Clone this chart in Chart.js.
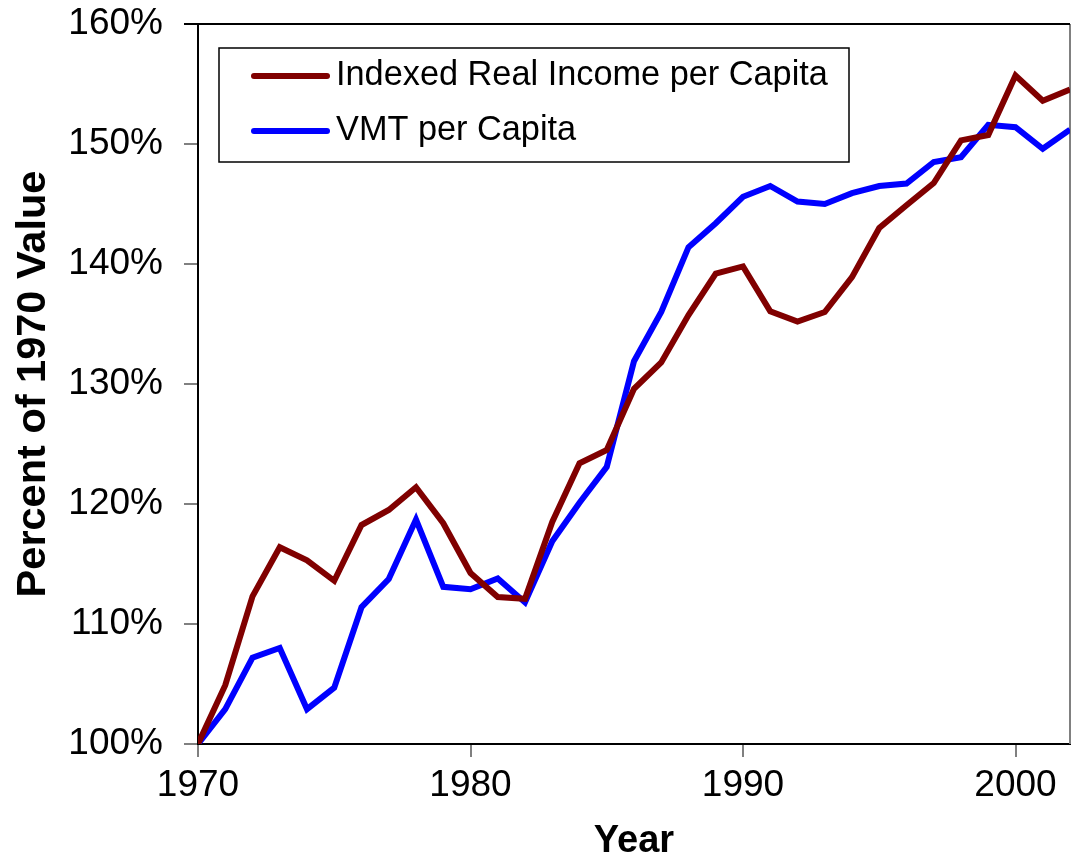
<!DOCTYPE html>
<html><head><meta charset="utf-8">
<script src="https://cdn.jsdelivr.net/npm/chart.js@4/dist/chart.umd.min.js"></script>
<style>html,body{margin:0;padding:0;background:#fff;} #wrap{width:1076px;height:856px;position:relative;}</style>
</head><body><div id="wrap"><canvas id="c" width="1076" height="856"></canvas></div>
<script>
const years = [1970,1971,1972,1973,1974,1975,1976,1977,1978,1979,1980,1981,1982,1983,1984,1985,1986,1987,1988,1989,1990,1991,1992,1993,1994,1995,1996,1997,1998,1999,2000,2001,2002];
const incomeIndex = [100,104.9,112.3,116.4,115.3,113.6,118.25,119.5,121.4,118.4,114.25,112.25,112.1,118.5,123.4,124.5,129.6,131.8,135.75,139.2,139.8,136.05,135.2,136.0,138.9,143.0,144.9,146.75,150.3,150.75,155.7,153.6,154.55];
const vmtIndex = [100,102.9,107.2,108.0,102.9,104.7,111.4,113.75,118.7,113.1,112.9,113.8,111.8,116.9,120.1,123.1,131.9,136.0,141.4,143.4,145.6,146.5,145.2,145.0,145.9,146.5,146.7,148.5,148.9,151.6,151.4,149.6,151.2];
const xTickValues = [1970,1980,1990,2000];
const yTickValues = [100,110,120,130,140,150,160];
const seriesLabels = ['Indexed Real Income per Capita','VMT per Capita'];
const seriesColors = ['#800000','#0000FF'];
const yAxisTitle = 'Percent of 1970 Value';
const xAxisTitle = 'Year';

const FAM = "'Liberation Sans', Arial, Helvetica, sans-serif";

const framePlugin = {
  id: 'frame',
  beforeDatasetsDraw(chart) {
    const {ctx, chartArea: a} = chart;
    ctx.save();
    ctx.lineWidth = 2;
    ctx.strokeStyle = '#808080';
    ctx.beginPath(); ctx.moveTo(a.right, a.top); ctx.lineTo(a.right, a.bottom); ctx.stroke();
    ctx.strokeStyle = '#000';
    ctx.beginPath(); ctx.moveTo(a.left - 14, a.top); ctx.lineTo(a.right, a.top); ctx.stroke();
    ctx.restore();
  }
};

const boxLegend = {
  id: 'boxLegend',
  afterDatasetsDraw(chart) {
    const {ctx} = chart;
    const bx = 219, by = 48, bw = 630, bh = 114;
    ctx.save();
    ctx.fillStyle = '#fff';
    ctx.fillRect(bx, by, bw, bh);
    ctx.lineWidth = 1.5;
    ctx.strokeStyle = '#000';
    ctx.strokeRect(bx, by, bw, bh);
    chart.data.datasets.forEach((ds, i) => {
      const ly = 76 + i * 55;
      ctx.strokeStyle = ds.borderColor;
      ctx.lineWidth = 6;
      ctx.lineCap = 'round';
      ctx.beginPath(); ctx.moveTo(254, ly); ctx.lineTo(327, ly); ctx.stroke();
      ctx.fillStyle = '#000';
      ctx.font = '34.3px ' + FAM;
      ctx.textBaseline = 'alphabetic';
      ctx.textAlign = 'left';
      ctx.fillText(ds.label, 336, ly + 9);
    });
    ctx.restore();
  }
};

new Chart(document.getElementById('c'), {
  type: 'line',
  data: {
    datasets: [
      {label: seriesLabels[0], data: years.map((y, i) => ({x: y, y: incomeIndex[i]})), borderColor: seriesColors[0], backgroundColor: seriesColors[0], borderWidth: 6, pointRadius: 0, tension: 0, fill: false},
      {label: seriesLabels[1], data: years.map((y, i) => ({x: y, y: vmtIndex[i]})), borderColor: seriesColors[1], backgroundColor: seriesColors[1], borderWidth: 6, pointRadius: 0, tension: 0, fill: false}
    ]
  },
  options: {
    responsive: false,
    animation: false,
    devicePixelRatio: 1,
    layout: {padding: {left: 0, right: 6, top: 24, bottom: 0}},
    plugins: {legend: {display: false}, tooltip: {enabled: false}, title: {display: false}},
    scales: {
      x: {
        type: 'linear', min: 1970, max: 2002,
        afterBuildTicks: s => { s.ticks = xTickValues.map(v => ({value: v})); },
        afterFit: s => { s.height = 112; s.paddingLeft = 0; s.paddingRight = 0; },
        grid: {drawOnChartArea: false, drawTicks: true, tickLength: 13, color: '#808080', lineWidth: 2},
        border: {display: true, color: '#000', width: 2},
        ticks: {font: {size: 37, family: FAM}, color: '#000', padding: 7, maxRotation: 0, autoSkip: false, callback: v => String(v)},
        title: {display: true, text: xAxisTitle, color: '#000', font: {size: 38, weight: 'bold', family: FAM, lineHeight: 0.75}, padding: 0}
      },
      y: {
        type: 'linear', min: 100, max: 160,
        afterBuildTicks: s => { s.ticks = yTickValues.map(v => ({value: v})); },
        afterFit: s => { s.width = 198; s.paddingTop = 0; s.paddingBottom = 0; },
        grid: {drawOnChartArea: false, drawTicks: true, tickLength: 14, color: '#808080', lineWidth: 2},
        border: {display: true, color: '#000', width: 2},
        ticks: {font: {size: 37, family: FAM}, color: '#000', padding: 21, callback: v => v + '%'},
        title: {display: true, text: yAxisTitle, color: '#000', font: {size: 41.5, weight: 'bold', family: FAM}, padding: {top: 9, bottom: 0}}
      }
    }
  },
  plugins: [framePlugin, boxLegend]
});
</script>
</body></html>
